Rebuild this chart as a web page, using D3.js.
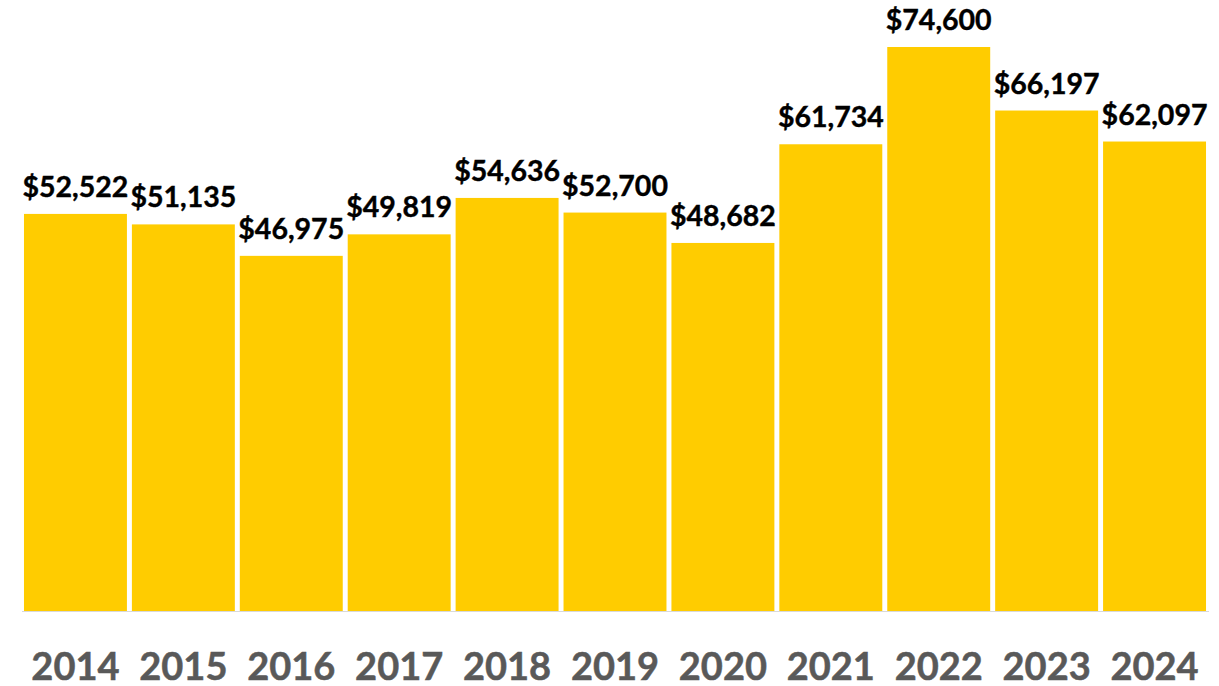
<!DOCTYPE html>
<html lang="en">
<head>
    <meta charset="UTF-8">
    <title>Chart</title>
    <script src="https://cdn.jsdelivr.net/npm/d3@7"></script>
    <style>
        body { margin: 0; background: #fff; }
        svg { display: block; }
    </style>
</head>
<body>
    <svg></svg>
    <script>
        // years and values
        var years = ["2014","2015","2016","2017","2018","2019","2020","2021","2022","2023","2024"];
        var values = [52522, 51135, 46975, 49819, 54636, 52700, 48682, 61734, 74600, 66197, 62097];

        var width = 1219, height = 686;
        var svg = d3.select("svg").attr("width", width).attr("height", height);

        var x = d3.scaleBand()
            .domain(years)
            .range([21.5, 1208.5])
            .paddingInner(0.046)
            .paddingOuter(0.023);

        // baseline at 611, 74600 reaches y=47
        var y = d3.scaleLinear()
            .domain([0, 74600])
            .range([611, 47]);

        //bars
        svg.append("g")
            .selectAll("rect")
            .data(values)
            .enter()
            .append("rect")
            .attr("x", function(d, i){ return x(years[i]); })
            .attr("y", function(d){ return y(d); })
            .attr("width", x.bandwidth())
            .attr("height", function(d){ return y(0) - y(d); })
            .attr("fill", "#ffcc00");

        //axis line
        svg.append("line")
            .attr("x1", 22).attr("x2", 1209)
            .attr("y1", 611.5).attr("y2", 611.5)
            .attr("stroke", "#d9d9d9")
            .attr("stroke-width", 1);

        //value labels
        var fmt = d3.format("$,");
        svg.append("g")
            .selectAll("text")
            .data(values)
            .enter()
            .append("text")
            .attr("x", function(d, i){ return x(years[i]) + x.bandwidth()/2; })
            .attr("y", function(d){ return y(d) - 17; })
            .attr("text-anchor", "middle")
            .attr("font-family", "Lato, 'Open Sans', sans-serif")
            .attr("font-weight", "bold")
            .attr("font-size", 28.5)
            .attr("fill", "#000")
            .attr("stroke", "#000")
            .attr("stroke-width", 0.4)
            .text(function(d){ return fmt(d); });

        //year labels
        svg.append("g")
            .selectAll("text")
            .data(years)
            .enter()
            .append("text")
            .attr("x", function(d){ return x(d) + x.bandwidth()/2; })
            .attr("y", 680)
            .attr("text-anchor", "middle")
            .attr("font-family", "Lato, 'Open Sans', sans-serif")
            .attr("font-weight", "bold")
            .attr("font-size", 38)
            .attr("fill", "#595959")
            .attr("stroke", "#595959")
            .attr("stroke-width", 0.5)
            .text(function(d){ return d; });
    </script>
</body>
</html>
